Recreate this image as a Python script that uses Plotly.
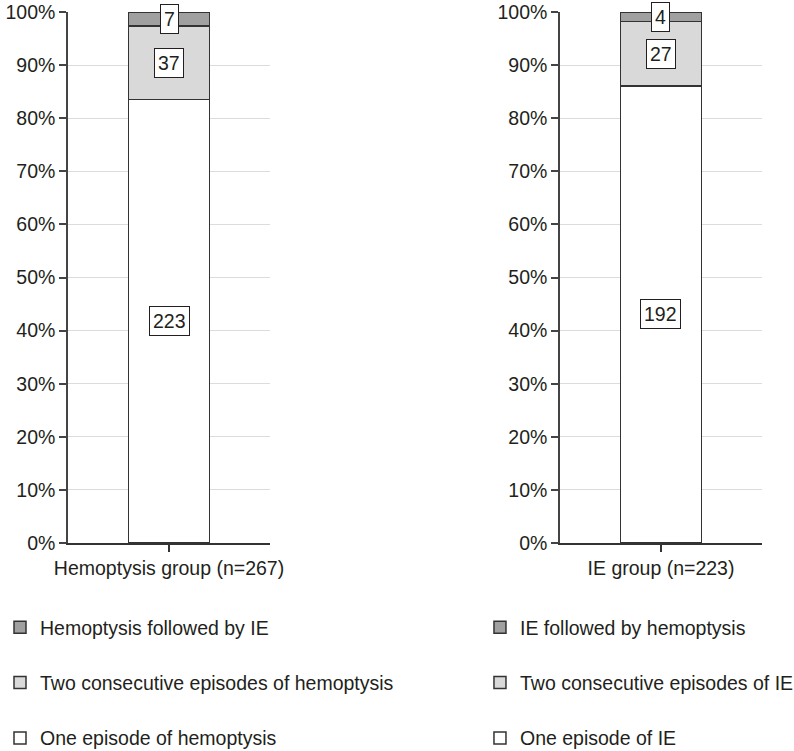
import plotly.graph_objects as go
from plotly.subplots import make_subplots

# Data
groups = ["Hemoptysis group (n=267)", "IE group (n=223)"]
hemo_labels = ["One episode of hemoptysis", "Two consecutive episodes of hemoptysis", "Hemoptysis followed by IE"]
ie_labels = ["One episode of IE", "Two consecutive episodes of IE", "IE followed by hemoptysis"]
hemo_counts = [223, 37, 7]
ie_counts = [192, 27, 4]
colors = ["#ffffff", "#d9d9d9", "#a0a0a0"]
y_ticks = [0, 0.1, 0.2, 0.3, 0.4, 0.5, 0.6, 0.7, 0.8, 0.9, 1.0]

FONT = "Liberation Sans, Arial, Helvetica, sans-serif"
FS = 19.5
TXT = "#231f20"

fig = make_subplots(rows=1, cols=2, horizontal_spacing=0.4178)

annotations = []
for col, (grp, labels, counts, leg) in enumerate(
        [(groups[0], hemo_labels, hemo_counts, "legend"),
         (groups[1], ie_labels, ie_counts, "legend2")], start=1):
    total = sum(counts)
    cum = 0.0
    for i, (lab, c) in enumerate(zip(labels, counts)):
        frac = c / total
        fig.add_trace(go.Bar(
            x=[grp], y=[frac], name=lab,
            marker=dict(color=colors[i], line=dict(color="#333333", width=1.5)),
            legend=leg, legendgroup=f"{leg}{i}", legendrank=len(counts) - i,
            hoverinfo="name+y",
        ), row=1, col=col)
        annotations.append(dict(
            x=grp, y=cum + frac / 2,
            xref="x" if col == 1 else "x2", yref="y" if col == 1 else "y2",
            text=str(c), showarrow=False,
            font=dict(family=FONT, size=FS, color=TXT),
            bgcolor="white", bordercolor="#231f20", borderwidth=1, borderpad=3,
        ))
        cum += frac

fig.update_layout(
    barmode="stack", bargap=0.6,
    width=794, height=751,
    margin=dict(l=68, r=32, t=12, b=208, autoexpand=False),
    paper_bgcolor="white", plot_bgcolor="white",
    font=dict(family=FONT, size=FS, color=TXT),
    annotations=annotations,
    legend=dict(xref="container", yref="container", x=0.0, y=0.1904, xanchor="left", yanchor="top",
                traceorder="grouped", tracegroupgap=27,
                font=dict(family=FONT, size=FS, color=TXT), bgcolor="rgba(0,0,0,0)"),
    legend2=dict(xref="container", yref="container", x=0.6045, y=0.1904, xanchor="left", yanchor="top",
                 traceorder="grouped", tracegroupgap=27,
                 font=dict(family=FONT, size=FS, color=TXT), bgcolor="rgba(0,0,0,0)"),
)

for ax in ["yaxis", "yaxis2"]:
    fig.update_layout({ax: dict(
        range=[0, 1], tickvals=y_ticks, tickformat=".0%",
        showgrid=True, gridcolor="#dcdcdc", gridwidth=1,
        showline=True, linecolor="#444444", linewidth=1.5,
        ticks="outside", ticklen=7, tickcolor="#444444", tickwidth=1.5,
        ticklabeloverflow="allow",
        zeroline=False, tickfont=dict(family=FONT, size=FS, color=TXT),
    )})
for ax in ["xaxis", "xaxis2"]:
    fig.update_layout({ax: dict(
        showline=True, linecolor="#333333", linewidth=1.5,
        ticks="outside", ticklen=7, tickcolor="#333333", tickwidth=1.5,
        tickfont=dict(family=FONT, size=FS, color=TXT),
    )})

fig.write_html("out.html", config={"displayModeBar": False},
               post_script="document.body.style.margin='0';")
